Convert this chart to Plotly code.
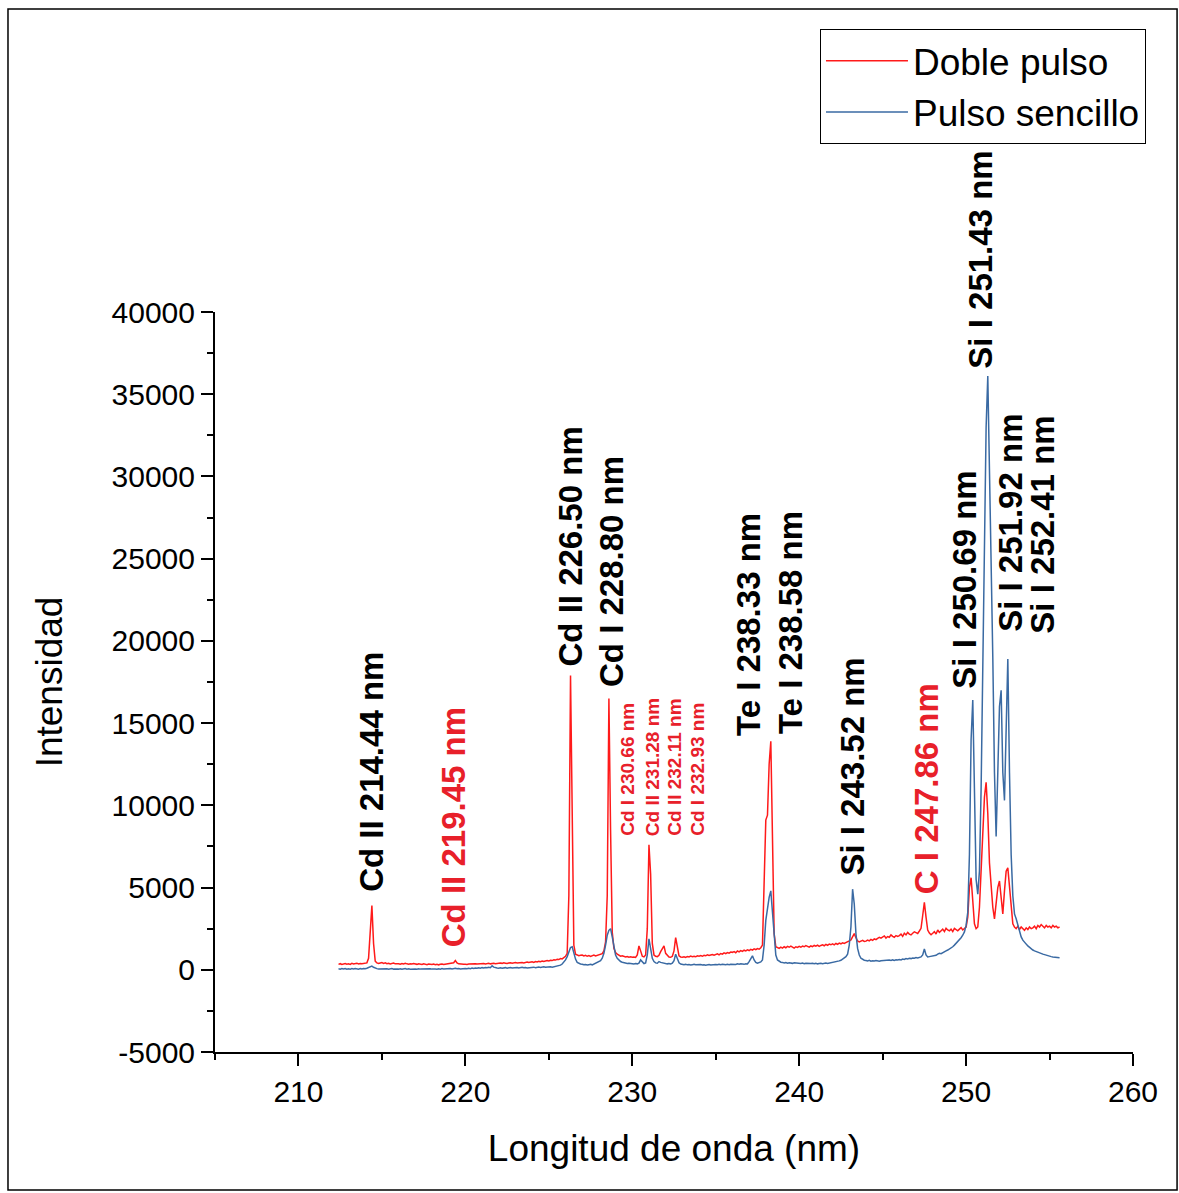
import numpy as np
import plotly.graph_objects as go

# ---------------- data ----------------
# wavelength grid: 212.4 ... 255.6 nm, 0.1 nm sampling
wl_start = 212.4
wl_step = 0.1

doble_pulso = [
    330, 370, 320, 350, 380, 340,                          # 212.4-212.9
    360, 330, 390, 350, 370, 400, 350, 380, 360, 390,      # 213
    380, 420, 700, 2400, 3900, 1600, 520, 420, 380, 410,   # 214
    440, 390, 420, 370, 400, 360, 390, 410, 360, 380,      # 215
    370, 340, 380, 350, 390, 360, 340, 370, 350, 380,      # 216
    360, 330, 370, 340, 320, 360, 340, 310, 350, 330,      # 217
    320, 350, 310, 340, 300, 330, 350, 320, 340, 360,      # 218
    350, 370, 390, 430, 560, 420, 360, 340, 350, 330,      # 219
    340, 320, 350, 360, 330, 340, 370, 350, 360, 340,      # 220
    360, 380, 350, 370, 390, 360, 380, 400, 370, 390,      # 221
    380, 410, 390, 420, 400, 380, 410, 430, 400, 420,      # 222
    440, 410, 430, 460, 440, 420, 450, 470, 440, 460,      # 223
    480, 450, 500, 470, 510, 490, 530, 500, 540, 560,      # 224
    540, 580, 560, 610, 590, 640, 620, 680, 660, 750,      # 225
    820, 1000, 4500, 17900, 9000, 1500, 950, 900, 860, 880,  # 226
    900, 840, 880, 820, 860, 810, 850, 890, 840, 870,      # 227
    900, 920, 980, 1150, 1700, 4500, 16500, 8500, 2300, 1300,  # 228
    1050, 950, 880, 830, 850, 800, 780, 810, 770, 790,     # 229
    760, 780, 750, 900, 1450, 1150, 820, 780, 900, 2500,   # 230
    7600, 5800, 1600, 900, 820, 800, 880, 1100, 1300, 1450,  # 231
    1000, 850, 780, 760, 820, 1150, 1950, 1400, 850, 780,  # 232
    760, 790, 750, 810, 780, 830, 800, 820, 790, 850,      # 233
    830, 860, 820, 880, 850, 910, 870, 900, 930, 890,      # 234
    930, 970, 910, 990, 950, 1030, 980, 1050, 1010, 1080,  # 235
    1060, 1110, 1040, 1140, 1090, 1170, 1120, 1190, 1150, 1210,  # 236
    1170, 1240, 1190, 1270, 1220, 1290, 1250, 1340, 1500, 5000,  # 237
    9100, 9400, 12500, 13900, 8500, 2200, 1400, 1350, 1300, 1380,  # 238
    1320, 1400, 1340, 1420, 1370, 1440, 1380, 1320, 1400, 1360,  # 239
    1420, 1370, 1440, 1400, 1470, 1420, 1380, 1450, 1410, 1480,  # 240
    1440, 1500, 1420, 1480, 1520, 1460, 1540, 1490, 1560, 1520,  # 241
    1580, 1520, 1600, 1550, 1620, 1580, 1640, 1600, 1670, 1720,  # 242
    1760, 1820, 2050, 2200, 1950, 1750, 1700, 1740, 1790, 1720,  # 243
    1740, 1810, 1760, 1850, 1790, 1880, 1830, 1910, 1970, 1920,  # 244
    1970, 2060, 1930, 2020, 1980, 2120, 2030, 1980, 2080, 2030,  # 245
    2080, 2170, 2030, 2220, 2120, 2270, 2170, 2120, 2220, 2310,  # 246
    2260, 2210, 2360, 2520, 3300, 4100, 3200, 2420, 2230, 2130,  # 247
    2220, 2320, 2170, 2420, 2270, 2370, 2470, 2320, 2520, 2420,  # 248
    2370, 2470, 2320, 2520, 2420, 2370, 2470, 2560, 2420, 2520,  # 249
    2600, 3200, 5000, 5600, 4200, 2800, 2500, 2600, 3800, 6000,  # 250
    8500, 10500, 11400, 9500, 6500, 5000, 3800, 3100, 3900, 5000,  # 251
    5400, 4300, 3400, 4800, 6000, 6200, 5000, 3500, 2800, 2600,  # 252
    2500, 2650, 2450, 2600, 2500, 2400, 2550, 2450, 2600, 2500,  # 253
    2550, 2650, 2500, 2700, 2600, 2750, 2650, 2550, 2700, 2600,  # 254
    2650, 2550, 2700, 2600, 2650, 2550, 2600,              # 255.0-255.6
]

pulso_sencillo = [
    60, 40, 80, 50, 70, 30,                                # 212.4-212.9
    60, 40, 70, 50, 80, 60, 40, 70, 50, 80,                # 213
    60, 90, 120, 180, 220, 150, 90, 70, 50, 60,            # 214
    40, 70, 50, 60, 30, 50, 70, 40, 60, 50,                # 215
    40, 60, 30, 50, 70, 40, 60, 30, 50, 40,                # 216
    50, 30, 60, 40, 50, 30, 60, 40, 50, 60,                # 217
    40, 60, 50, 30, 60, 40, 70, 50, 60, 40,                # 218
    60, 80, 50, 70, 90, 60, 80, 50, 70, 60,                # 219
    80, 60, 90, 70, 100, 80, 110, 90, 120, 100,            # 220
    130, 110, 140, 120, 150, 130, 240, 160, 120, 110,      # 221
    100, 120, 90, 110, 130, 100, 120, 140, 110, 130,       # 222
    120, 140, 110, 130, 150, 120, 140, 110, 130, 150,      # 223
    140, 160, 130, 150, 170, 140, 160, 180, 150, 170,      # 224
    160, 180, 150, 170, 190, 200, 230, 280, 350, 450,      # 225
    600, 800, 1100, 1350, 1400, 1000, 650, 450, 380, 350,  # 226
    330, 300, 320, 290, 310, 330, 300, 350, 380, 420,      # 227
    480, 560, 700, 1000, 1500, 2100, 2400, 2500, 2000, 1300,  # 228
    900, 700, 580, 500, 460, 420, 400, 380, 390, 360,      # 229
    370, 350, 380, 360, 400, 600, 450, 380, 420, 900,      # 230
    1880, 1400, 700, 500, 420, 400, 500, 450, 420, 400,    # 231
    380, 360, 380, 350, 400, 550, 950, 700, 420, 350,      # 232
    330, 310, 340, 300, 320, 290, 310, 330, 300, 320,      # 233
    300, 320, 290, 310, 280, 300, 320, 290, 310, 300,      # 234
    320, 300, 330, 310, 340, 320, 300, 330, 310, 340,      # 235
    330, 350, 320, 360, 340, 370, 350, 330, 360, 350,      # 236
    500, 700, 850, 600, 450, 400, 420, 480, 600, 1500,     # 237
    3000, 3800, 4400, 4800, 3500, 1800, 900, 600, 500, 460,  # 238
    450, 420, 440, 400, 430, 410, 390, 420, 400, 380,      # 239
    400, 380, 410, 370, 400, 390, 360, 380, 400, 370,      # 240
    390, 360, 380, 400, 370, 390, 410, 380, 400, 420,      # 241
    430, 450, 470, 500, 540, 580, 650, 720, 800, 950,      # 242
    1500, 2600, 4900, 4000, 2200, 1300, 900, 700, 620, 580,  # 243
    560, 540, 580, 520, 550, 530, 560, 540, 520, 550,      # 244
    560, 530, 570, 550, 590, 560, 600, 570, 610, 590,      # 245
    620, 600, 650, 630, 680, 660, 700, 680, 720, 700,      # 246
    740, 720, 760, 780, 900, 1260, 900, 780, 800, 820,     # 247
    860, 900, 880, 950, 1000, 980, 1050, 1100, 1150, 1200,  # 248
    1250, 1300, 1400, 1500, 1600, 1700, 1800, 1950, 2100, 2300,  # 249
    2700, 3500, 7000, 14000, 16400, 11000, 5500, 4600, 6000, 11000,  # 250
    19000, 26000, 33000, 36100, 31000, 25000, 19000, 12000, 8100, 12000,  # 251
    16000, 17000, 12000, 10300, 15000, 18900, 12000, 7000, 4500, 3400,  # 252
    3100, 2700, 2300, 2000, 1800, 1650, 1560, 1450, 1350, 1280,  # 253
    1200, 1150, 1100, 1050, 1000, 960, 950, 920, 880, 860,  # 254
    830, 800, 780, 760, 750, 740, 730,                     # 255.0-255.6
]

series_names = ["Doble pulso", "Pulso sencillo"]

# peak labels
label_text = [
    "Cd II 214.44 nm", "Cd II 219.45 nm", "Cd II 226.50 nm", "Cd I 228.80 nm",
    "Cd I 230.66 nm", "Cd II 231.28 nm", "Cd II 232.11 nm", "Cd I 232.93 nm",
    "Te I 238.33 nm", "Te I 238.58 nm", "Si I 243.52 nm", "C I 247.86 nm",
    "Si I 250.69 nm", "Si I 251.43 nm", "Si I 251.92 nm", "Si I 252.41 nm",
]
label_x = [214.33, 219.29, 226.31, 228.71,
           229.75, 231.18, 232.56, 233.94,
           236.92, 239.44, 243.21, 247.59,
           249.93, 250.89, 252.69, 254.60]
label_y = [4600, 1220, 18300, 17090,
           8000, 8000, 8000, 8000,
           14110, 14230, 5590, 4500,
           16970, 36430, 20430, 20310]
label_kind = ["big_black", "big_red", "big_black", "big_black",
              "small_red", "small_red", "small_red", "small_red",
              "big_black", "big_black", "big_black", "big_red",
              "big_black", "big_black", "big_black", "big_black"]

x_ticks = [210, 220, 230, 240, 250, 260]
y_ticks = [-5000, 0, 5000, 10000, 15000, 20000, 25000, 30000, 35000, 40000]
y_tick_text = ["-5000", "0", "5000", "10000", "15000", "20000", "25000", "30000", "35000", "40000"]

# ---------------- figure ----------------
assert len(doble_pulso) == len(pulso_sencillo), (len(doble_pulso), len(pulso_sencillo))
wl = np.round(wl_start + wl_step * np.arange(len(doble_pulso)), 2)

FONT = "Liberation Sans, Arial, sans-serif"
RED = "#ff1a1a"
BLUE = "#3a6aa3"

fig = go.Figure()
fig.add_trace(go.Scatter(x=wl, y=doble_pulso, mode="lines", name=series_names[0],
                         line=dict(color=RED, width=1.5)))
fig.add_trace(go.Scatter(x=wl, y=pulso_sencillo, mode="lines", name=series_names[1],
                         line=dict(color=BLUE, width=1.5)))

styles = {
    "big_black": dict(size=33, color="black"),
    "big_red": dict(size=33, color="#e8202a"),
    "small_red": dict(size=19, color="#e8202a"),
}
for t, x, y, k in zip(label_text, label_x, label_y, label_kind):
    st = styles[k]
    fig.add_annotation(x=x, y=y, xref="x", yref="y", text="<b>%s</b>" % t,
                       textangle=-90, showarrow=False, xanchor="center", yanchor="bottom",
                       font=dict(family=FONT, size=st["size"], color=st["color"]))

axis_common = dict(showline=True, linecolor="black", linewidth=2, mirror=False,
                   ticks="outside", ticklen=12, tickwidth=2, tickcolor="black",
                   showgrid=False, zeroline=False,
                   tickfont=dict(family=FONT, size=30, color="black"))

fig.update_xaxes(range=[205, 260], tickvals=x_ticks,
                 minor=dict(dtick=5, tick0=205, ticks="outside", ticklen=6, tickwidth=2,
                            tickcolor="black"),
                 title=dict(text="Longitud de onda (nm)", standoff=28,
                            font=dict(family=FONT, size=37, color="black")),
                 **axis_common)
fig.update_yaxes(range=[-5000, 40000], tickvals=y_ticks, ticktext=y_tick_text,
                 minor=dict(dtick=2500, tick0=0, ticks="outside", ticklen=6, tickwidth=2,
                            tickcolor="black"),
                 title=dict(text="Intensidad", standoff=38,
                            font=dict(family=FONT, size=37, color="black")),
                 **axis_common)

# outer frame of the picture
fig.add_shape(type="rect", xref="paper", yref="paper",
              x0=-0.2255, x1=1.048, y0=-0.1865, y1=1.4095,
              line=dict(color="black", width=1.5))

fig.update_layout(
    width=1179, height=1193,
    margin=dict(l=215, r=46, t=312, b=141),
    paper_bgcolor="white", plot_bgcolor="white",
    font=dict(family=FONT, color="black"),
    showlegend=True,
    legend=dict(x=0.659, y=1.382, xanchor="left", yanchor="top",
                bordercolor="black", borderwidth=1, bgcolor="white",
                font=dict(family=FONT, size=37, color="black"),
                itemwidth=82, tracegroupgap=0),
)

fig.write_html("out.html")
